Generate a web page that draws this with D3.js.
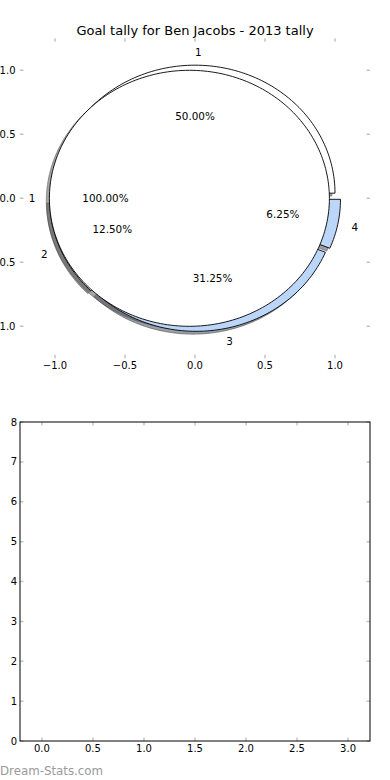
<!DOCTYPE html>
<html>
<head>
<meta charset="utf-8">
<script src="https://cdn.jsdelivr.net/npm/d3@7"></script>
<style>
  html, body { margin: 0; padding: 0; background: #fff; }
  svg { display: block; font-family: "DejaVu Sans", sans-serif; }
</style>
</head>
<body>
<div id="chart"></div>
<script>
// --- DATA ---
const TITLE = "Goal tally for Ben Jacobs - 2013 tally";
// outer pie (a single wedge of 100%)
const pieALabels = ["1"];
const pieAValues = [1];
const pieAColors = ["#ffffff"];
// second pie drawn on the same axes
const pieBLabels = ["1", "2", "3", "4"];
const pieBValues = [8, 2, 5, 1];
const pieBColors = ["#ffffff", "#ffffff", "#bcd6f9", "#bcd6f9"];
const EXPLODE = 0.04;

const pieTicks = [-1.0, -0.5, 0.0, 0.5, 1.0];
const barXTicks = [0.0, 0.5, 1.0, 1.5, 2.0, 2.5, 3.0];
const barYTicks = [0, 1, 2, 3, 4, 5, 6, 7, 8];

// --- LAYOUT ---
const WIDTH = 390, HEIGHT = 780;
const PIE = { left: 20, right: 370, top: 38.3, bottom: 358.3 };
const BAR = { left: 20, right: 370, top: 422, bottom: 741 };
const TICK_COLOR = "#c4c4c4";

const svg = d3.select("#chart").append("svg")
    .attr("width", WIDTH).attr("height", HEIGHT)
    .attr("viewBox", [0, 0, WIDTH, HEIGHT]);

// --- PIE AXES ---
const x = d3.scaleLinear().domain([-1.25, 1.25]).range([PIE.left, PIE.right]);
const y = d3.scaleLinear().domain([-1.25, 1.25]).range([PIE.bottom, PIE.top]);

svg.append("text")
    .attr("x", (PIE.left + PIE.right) / 2).attr("y", 34.5)
    .attr("text-anchor", "middle").attr("font-size", 13)
    .text(TITLE);

const pie = d3.pie().sort(null).value(d => d).startAngle(0).endAngle(2 * Math.PI);
const line = d3.line().x(p => x(p[0])).y(p => y(p[1]));

function wedgePoints(cx, cy, a0, a1) {
    const full = Math.abs(a1 - a0 - 2 * Math.PI) < 1e-9;
    const n = Math.max(2, Math.ceil((a1 - a0) / (2 * Math.PI) * 240));
    const pts = d3.range(n + 1).map(i => {
        const a = a0 + (a1 - a0) * i / n;
        return [cx + Math.cos(a), cy + Math.sin(a)];
    });
    return full ? pts : [[cx, cy], ...pts];
}

function buildWedges(values, labels, colors, name) {
    return pie(values).map((d, i) => {
        const mid = (d.startAngle + d.endAngle) / 2;
        const cx = EXPLODE * Math.cos(mid), cy = EXPLODE * Math.sin(mid);
        return {
            name, label: labels[i], color: colors[i],
            frac: (d.endAngle - d.startAngle) / (2 * Math.PI),
            mid, cx, cy, pts: wedgePoints(cx, cy, d.startAngle, d.endAngle)
        };
    });
}

const wedges = buildWedges(pieBValues, pieBLabels, pieBColors, "B")
    .concat(buildWedges(pieAValues, pieALabels, pieAColors, "A"));

// shadows first (matplotlib zorder 0.8), shifted down-left
const sdx = x(-0.0222) - x(0), sdy = y(-0.0222) - y(0);
const shade = c => { c = d3.rgb(c); return d3.rgb(c.r * 0.3, c.g * 0.3, c.b * 0.3); };
svg.append("g").attr("transform", `translate(${sdx},${sdy})`)
    .selectAll("path").data(wedges).join("path")
    .attr("d", d => line(d.pts) + "Z")
    .attr("fill", d => shade(d.color))
    .attr("fill-opacity", 0.5)
    .attr("stroke", d => shade(d.color))
    .attr("stroke-opacity", 0.5)
    .attr("stroke-width", 1);

// the wedges
svg.append("g").selectAll("path").data(wedges).join("path")
    .attr("d", d => line(d.pts) + "Z")
    .attr("fill", d => d.color)
    .attr("stroke", "#000")
    .attr("stroke-width", 0.9)
    .attr("stroke-linejoin", "round");

// labels at 1.1, percentages at 0.6
const fmt = d3.format(".2f");
svg.append("g").selectAll("text").data(wedges).join("text")
    .attr("x", d => x(d.cx + 1.1 * Math.cos(d.mid)))
    .attr("y", d => y(d.cy + 1.1 * Math.sin(d.mid)))
    .attr("dy", "0.36em")
    .attr("font-size", 10.4)
    .attr("text-anchor", d => (d.cx + 1.1 * Math.cos(d.mid)) > 0 ? "start" : "end")
    .text(d => d.label);

svg.append("g").selectAll("text").data(wedges).join("text")
    .attr("x", d => x(d.cx + 0.6 * Math.cos(d.mid)))
    .attr("y", d => y(d.cy + 0.6 * Math.sin(d.mid)))
    .attr("dy", "0.36em")
    .attr("font-size", 10.4)
    .attr("text-anchor", "middle")
    .text(d => fmt(d.frac * 100) + "%");

// pie axes ticks (no frame)
const tickFmt = d3.format(".1f");
function inwardTicks(g, xs, ys, box, xScale, yScale, len) {
    g.selectAll(".tb").data(xs).join("path").attr("class", "tb")
        .attr("d", v => `M${xScale(v)},${box.top}v${len}M${xScale(v)},${box.bottom}v${-len}`);
    g.selectAll(".tl").data(ys).join("path").attr("class", "tl")
        .attr("d", v => `M${box.left},${yScale(v)}h${len}M${box.right},${yScale(v)}h${-len}`);
    g.selectAll("path").attr("stroke", TICK_COLOR).attr("stroke-width", 1.5).attr("fill", "none");
}
inwardTicks(svg.append("g"), pieTicks, pieTicks, PIE, x, y, 3.5);

svg.append("g").selectAll("text").data(pieTicks).join("text")
    .attr("x", PIE.left - 4.5).attr("y", v => y(v)).attr("dy", "0.36em")
    .attr("text-anchor", "end").attr("font-size", 10)
    .text(v => tickFmt(v));
svg.append("g").selectAll("text").data(pieTicks).join("text")
    .attr("x", v => x(v)).attr("y", PIE.bottom + 11)
    .attr("text-anchor", "middle").attr("font-size", 10)
    .text(v => tickFmt(v));

// --- EMPTY BAR AXES ---
const bx = d3.scaleLinear().domain([-0.215, 3.215]).range([BAR.left, BAR.right]);
const by = d3.scaleLinear().domain([0, 8]).range([BAR.bottom, BAR.top]);

inwardTicks(svg.append("g"), barXTicks, barYTicks, BAR, bx, by, 3.5);

svg.append("rect")
    .attr("x", BAR.left).attr("y", BAR.top)
    .attr("width", BAR.right - BAR.left).attr("height", BAR.bottom - BAR.top)
    .attr("fill", "none").attr("stroke", "#000").attr("stroke-width", 1);

svg.append("g").selectAll("text").data(barYTicks).join("text")
    .attr("x", BAR.left - 3).attr("y", v => by(v)).attr("dy", "0.36em")
    .attr("text-anchor", "end").attr("font-size", 10)
    .text(v => v);
svg.append("g").selectAll("text").data(barXTicks).join("text")
    .attr("x", v => bx(v)).attr("y", BAR.bottom + 11)
    .attr("text-anchor", "middle").attr("font-size", 10)
    .text(v => tickFmt(v));

// watermark
svg.append("text")
    .attr("x", 0).attr("y", 775)
    .attr("font-size", 11.8).attr("fill", "#9a9a9a")
    .text("Dream-Stats.com");
</script>
</body>
</html>
